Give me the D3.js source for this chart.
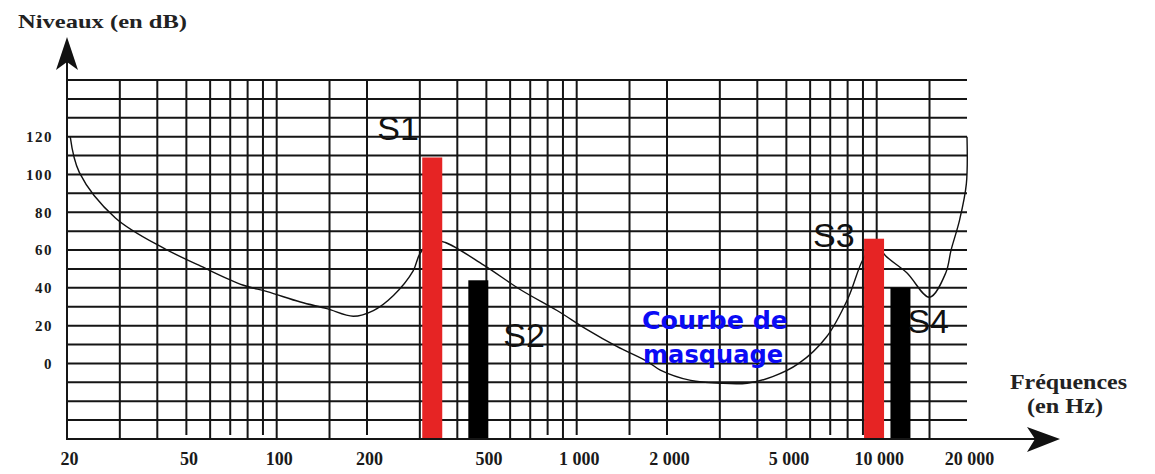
<!DOCTYPE html>
<html>
<head>
<meta charset="UTF-8">
<title>Courbe de masquage</title>
<style>
body { margin: 0; background: #fff; }
svg { display: block; }
.grid line { stroke: #151515; stroke-width: 2px; }
.axis-line { stroke: #151515; stroke-width: 2px; fill: none; }
.arrow { fill: #111; }
.ticks text { font-family: "Liberation Serif", "DejaVu Serif", serif; font-weight: bold; fill: #1a1a1a; }
.title { font-family: "Liberation Serif", "DejaVu Serif", serif; font-weight: bold; fill: #222; }
.masque { fill: none; stroke: #111; stroke-width: 1.4px; }
.sound-label { font-family: "Liberation Sans", Arial, sans-serif; font-size: 34px; fill: #111; }
.legend { font-family: "Comic Sans MS", "DejaVu Sans", sans-serif; font-weight: bold; font-size: 24px; fill: #0b0bf5; }
</style>
</head>
<body>
<svg></svg>
<script src="https://d3js.org/d3.v7.min.js"></script>
<script>

// graduations
var freqTicks = [20, 50, 100, 200, 500, 1000, 2000, 5000, 10000, 20000];
var freqTickLabels = ["20", "50", "100", "200", "500", "1 000", "2 000", "5 000", "10 000", "20 000"];
var gridFreqs = [30, 40, 50, 60, 70, 80, 90, 100, 150, 200, 300, 400, 500, 600, 700, 800, 900,
  1000, 1500, 2000, 3000, 4000, 5000, 6000, 7000, 8000, 9000, 10000, 15000];
// lignes qui s'arretent un peu avant l'axe (dessin a la main)
var shortGridFreqs = [50, 70, 90, 200, 800, 1000, 1500, 2000, 7000, 9000];
var levelTicks = [0, 20, 40, 60, 80, 100, 120];
var gridLevels = [-30, -20, -10, 0, 10, 20, 30, 40, 50, 60, 70, 80, 90, 100, 110, 120, 130, 140, 150];

// courbe de masquage (Hz, dB)
var curveFreqs = [20.5, 22, 29, 42, 55, 77, 93, 120, 147, 180, 210, 245, 285, 300, 330, 365, 490, 650, 860,
  1080, 1360, 1720, 1900, 2400, 3000, 3700, 4500, 5500, 6800, 8000, 9000, 9900, 10700, 12600, 15000,
  17000, 17700, 18900, 19900, 20000];
var curveLevels = [120, 101, 77, 61, 52, 41.5, 38, 32.5, 29, 25, 28, 36, 49, 58, 65, 64, 52, 39, 28,
  18, 9, 1, -3.5, -9, -10.5, -10.5, -7, 0, 14, 34, 55, 64, 57, 48, 35,
  48, 60, 76, 95, 120];

// sons
var soundNames = ["S1", "S2", "S3", "S4"];
var soundFreqs = [330, 470, 9800, 12000];
var soundLevels = [109, 44, 66, 40];

var W = 1155, H = 474;
var barWidth = 20;
var soundColor = { S1: "#e62424", S2: "#000", S3: "#e62424", S4: "#000" };
var labelOffset = { S1: [-55, -17], S2: [25, 67], S3: [-61, 8], S4: [7, 45] };

var x = d3.scaleLog().domain([20, 20000]).range([67, 967]);
var y = d3.scaleLinear().domain([-40, 150]).range([439, 80]);

var svg = d3.select("svg").attr("width", W).attr("height", H);

// quadrillage
var grid = svg.append("g").attr("class", "grid");
grid.selectAll("line.h")
  .data(gridLevels)
  .enter().append("line")
  .attr("class", "h")
  .attr("x1", x(20)).attr("x2", x(20000))
  .attr("y1", function (d) { return y(d); })
  .attr("y2", function (d) { return y(d); });

grid.selectAll("line.v")
  .data(gridFreqs)
  .enter().append("line")
  .attr("class", "v")
  .attr("x1", function (d) { return x(d); })
  .attr("x2", function (d) { return x(d); })
  .attr("y1", y(150))
  .attr("y2", function (d) { return shortGridFreqs.indexOf(d) >= 0 ? y(-40) - 4 : y(-40); });

// courbe
var line = d3.line()
  .x(function (d) { return x(d[0]); })
  .y(function (d) { return y(d[1]); })
  .curve(d3.curveCatmullRom.alpha(0.5));

svg.append("path")
  .attr("class", "masque")
  .attr("d", line(d3.zip(curveFreqs, curveLevels)));

// barres
svg.selectAll("rect.son")
  .data(soundNames)
  .enter().append("rect")
  .attr("class", "son")
  .attr("x", function (d, i) { return x(soundFreqs[i]) - barWidth / 2; })
  .attr("y", function (d, i) { return y(soundLevels[i]); })
  .attr("width", barWidth)
  .attr("height", function (d, i) { return y(-40) - y(soundLevels[i]); })
  .attr("fill", function (d) { return soundColor[d]; });

svg.selectAll("text.sound-label")
  .data(soundNames)
  .enter().append("text")
  .attr("class", "sound-label")
  .attr("x", function (d, i) { return x(soundFreqs[i]) + labelOffset[d][0]; })
  .attr("y", function (d, i) { return y(soundLevels[i]) + labelOffset[d][1]; })
  .text(function (d) { return d; });

// axes
svg.append("line").attr("class", "axis-line")
  .attr("x1", 67).attr("x2", 67).attr("y1", 440).attr("y2", 50);
svg.append("path").attr("class", "arrow")
  .attr("d", "M67,37 L56,70 L67,62 L78,70 Z");

svg.append("line").attr("class", "axis-line")
  .attr("x1", 66).attr("x2", 1045).attr("y1", 439).attr("y2", 439);
svg.append("path").attr("class", "arrow")
  .attr("d", "M1060,439 L1027,427 L1035,439 L1027,452 Z");

var yAxis = d3.axisLeft(y).tickValues(levelTicks).tickSize(0).tickPadding(14);
svg.append("g").attr("class", "ticks")
  .attr("transform", "translate(67,0)")
  .call(yAxis)
  .call(function (g) { g.select(".domain").remove(); })
  .selectAll("text")
  .style("font-size", "15px")
  .style("letter-spacing", "1.5px");

var xAxis = d3.axisBottom(x).tickValues(freqTicks)
  .tickFormat(function (d, i) { return freqTickLabels[i]; })
  .tickSize(0).tickPadding(13);
svg.append("g").attr("class", "ticks")
  .attr("transform", "translate(2,439)")
  .call(xAxis)
  .call(function (g) { g.select(".domain").remove(); })
  .selectAll("text")
  .style("font-size", "18px");

// titres
svg.append("text").attr("class", "title")
  .attr("x", 18).attr("y", 28)
  .attr("textLength", 169).attr("lengthAdjust", "spacingAndGlyphs")
  .style("font-size", "19px")
  .text("Niveaux (en dB)");

svg.append("text").attr("class", "title")
  .attr("x", 1010).attr("y", 389)
  .attr("textLength", 117).attr("lengthAdjust", "spacingAndGlyphs")
  .style("font-size", "21px")
  .text("Fréquences");

svg.append("text").attr("class", "title")
  .attr("x", 1027).attr("y", 413)
  .attr("textLength", 76).attr("lengthAdjust", "spacingAndGlyphs")
  .style("font-size", "21px")
  .text("(en Hz)");

// legende de la courbe
svg.append("text").attr("class", "legend")
  .attr("x", 642).attr("y", 329)
  .attr("textLength", 146).attr("lengthAdjust", "spacingAndGlyphs")
  .text("Courbe de");
svg.append("text").attr("class", "legend")
  .attr("x", 643).attr("y", 363)
  .attr("textLength", 140).attr("lengthAdjust", "spacingAndGlyphs")
  .text("masquage");

</script>
</body>
</html>
